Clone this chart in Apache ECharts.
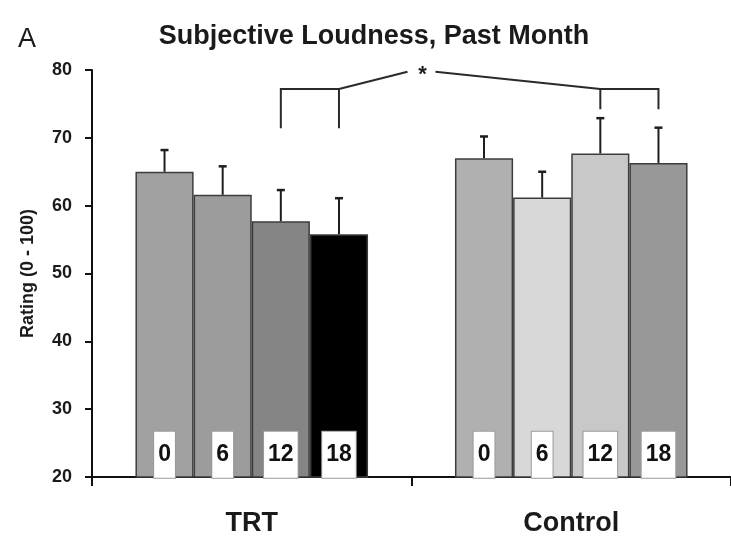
<!DOCTYPE html>
<html>
<head>
<meta charset="utf-8">
<script src="https://cdn.jsdelivr.net/npm/echarts@6/dist/echarts.min.js"></script>
<style>
html,body{margin:0;padding:0;background:#fff;}
#chart{width:731px;height:537px;}
</style>
</head>
<body>
<div id="chart"></div>
<script>
// ---- data ----
const groups = ['TRT', 'Control'];
const months = ['0', '6', '12', '18'];
const meanM0 = [65.0, 67.0];
const meanM6 = [61.6, 61.2];
const meanM12 = [57.7, 67.7];
const meanM18 = [55.8, 66.3];
const upperM0 = [68.2, 70.2];
const upperM6 = [65.8, 65.0];
const upperM12 = [62.3, 72.9];
const upperM18 = [61.1, 71.5];
const colorsTRT = ['#a1a1a1', '#9c9c9c', '#858585', '#000000'];
const colorsCtrl = ['#b0b0b0', '#d8d8d8', '#c8c8c8', '#989898'];
const yTicks = [20, 30, 40, 50, 60, 70, 80];
// significance bracket (data units)
const bracketLevel = 77.2;
const bracketApex = 79.75;
const bracketLegTRT = 71.4;
const bracketLegCtrl = 74.2;
const bracketBars = [2, 3]; // months 12 and 18

const means = [meanM0, meanM6, meanM12, meanM18];
const uppers = [upperM0, upperM6, upperM12, upperM18];
const GAP = 0.272;
const FONT = "'Liberation Sans', Arial, sans-serif";

const chart = echarts.init(document.getElementById('chart'));

const barSeries = months.map((m, mi) => ({
  type: 'bar',
  name: m,
  barGap: '0%',
  barCategoryGap: (GAP * 100) + '%',
  data: means[mi].map((v, gi) => ({
    value: v,
    itemStyle: { color: gi === 0 ? colorsTRT[mi] : colorsCtrl[mi] }
  })),
  itemStyle: { borderColor: '#3c3c3c', borderWidth: 1.5 },
  label: {
    show: true,
    position: 'insideBottom',
    distance: 0,
    formatter: () => m,
    fontFamily: FONT,
    fontWeight: 'bold',
    fontSize: 23,
    color: '#111',
    backgroundColor: '#fff',
    borderColor: '#9a9a9a',
    borderWidth: 1,
    lineHeight: 24,
    padding: [11, 4, 11, 4]
  },
  z: 2
}));

const errData = [];
for (let mi = 0; mi < 4; mi++) {
  for (let gi = 0; gi < 2; gi++) {
    errData.push([gi, mi, means[mi][gi], uppers[mi][gi]]);
  }
}

const errSeries = {
  type: 'custom',
  z: 3,
  data: errData,
  encode: { x: 0, y: 3 },
  renderItem: function (params, api) {
    const g = api.value(0), m = api.value(1), mean = api.value(2), up = api.value(3);
    const band = api.size([1, 0])[0];
    const bw = band * (1 - GAP) / 4;
    const p0 = api.coord([g, mean]);
    const p1 = api.coord([g, up]);
    const cx = p0[0] + (m - 1.5) * bw;
    const st = { stroke: '#1e1e1e', lineWidth: 2 };
    return {
      type: 'group',
      children: [
        { type: 'line', shape: { x1: cx, y1: p0[1], x2: cx, y2: p1[1] }, style: st },
        { type: 'line', shape: { x1: cx - 4, y1: p1[1], x2: cx + 4, y2: p1[1] }, style: { stroke: '#1e1e1e', lineWidth: 2.5 } }
      ]
    };
  }
};

const bracketSeries = {
  type: 'custom',
  z: 4,
  data: [[0, bracketApex]],
  encode: { x: 0, y: 1 },
  renderItem: function (params, api) {
    const band = api.size([1, 0])[0];
    const bw = band * (1 - GAP) / 4;
    const xOf = (g, m) => api.coord([g, 0])[0] + (m - 1.5) * bw;
    const yOf = v => api.coord([0, v])[1];
    const st = { stroke: '#2a2a2a', lineWidth: 2, fill: null };
    const t1 = xOf(0, bracketBars[0]), t2 = xOf(0, bracketBars[1]);
    const c1 = xOf(1, bracketBars[0]), c2 = xOf(1, bracketBars[1]);
    const yl = yOf(bracketLevel), ya = yOf(bracketApex);
    const mid = api.coord([0, 0])[0] + band / 2;
    const ax = mid + 11;
    return {
      type: 'group',
      children: [
        { type: 'polyline', shape: { points: [[t1, yOf(bracketLegTRT)], [t1, yl], [t2, yl], [t2, yOf(bracketLegTRT)]] }, style: st },
        { type: 'line', shape: { x1: t2, y1: yl, x2: ax - 15, y2: ya }, style: st },
        { type: 'polyline', shape: { points: [[c1, yOf(bracketLegCtrl)], [c1, yl], [c2, yl], [c2, yOf(bracketLegCtrl)]] }, style: st },
        { type: 'line', shape: { x1: ax + 13, y1: ya, x2: c1, y2: yl }, style: st },
        { type: 'text', style: { text: '*', x: ax, y: ya + 3, align: 'center', verticalAlign: 'middle', font: 'bold 22px ' + FONT, fill: '#1e1e1e' } }
      ]
    };
  }
};

chart.setOption({
  animation: false,
  backgroundColor: '#fff',
  title: [
    { text: 'Subjective Loudness, Past Month', left: 369, top: 18, textAlign: 'center',
      textStyle: { fontFamily: FONT, fontWeight: 'bold', fontSize: 27, color: '#1a1a1a' } },
    { text: 'A', left: 13, top: 21,
      textStyle: { fontFamily: FONT, fontWeight: 'normal', fontSize: 27, color: '#1a1a1a' } }
  ],
  grid: { left: 92, right: -9, top: 70, bottom: 53, containLabel: false },
  xAxis: {
    type: 'category',
    data: groups,
    axisLine: { lineStyle: { color: '#111', width: 2 } },
    axisTick: { show: true, length: 9, lineStyle: { color: '#111', width: 2 } },
    axisLabel: { margin: 33, fontFamily: FONT, fontWeight: 'bold', fontSize: 27, color: '#1a1a1a' }
  },
  yAxis: {
    type: 'value',
    min: yTicks[0],
    max: yTicks[yTicks.length - 1],
    interval: 10,
    name: 'Rating (0 - 100)',
    nameLocation: 'middle',
    nameGap: 55,
    nameTextStyle: { fontFamily: FONT, fontWeight: 'bold', fontSize: 18, color: '#1a1a1a' },
    axisLine: { show: true, lineStyle: { color: '#111', width: 2 } },
    axisTick: { show: true, length: 7, lineStyle: { color: '#111', width: 2 } },
    axisLabel: { margin: 20, fontFamily: FONT, fontWeight: 'bold', fontSize: 18, color: '#1a1a1a' },
    splitLine: { show: false }
  },
  series: [...barSeries, errSeries, bracketSeries]
});
</script>
</body>
</html>
